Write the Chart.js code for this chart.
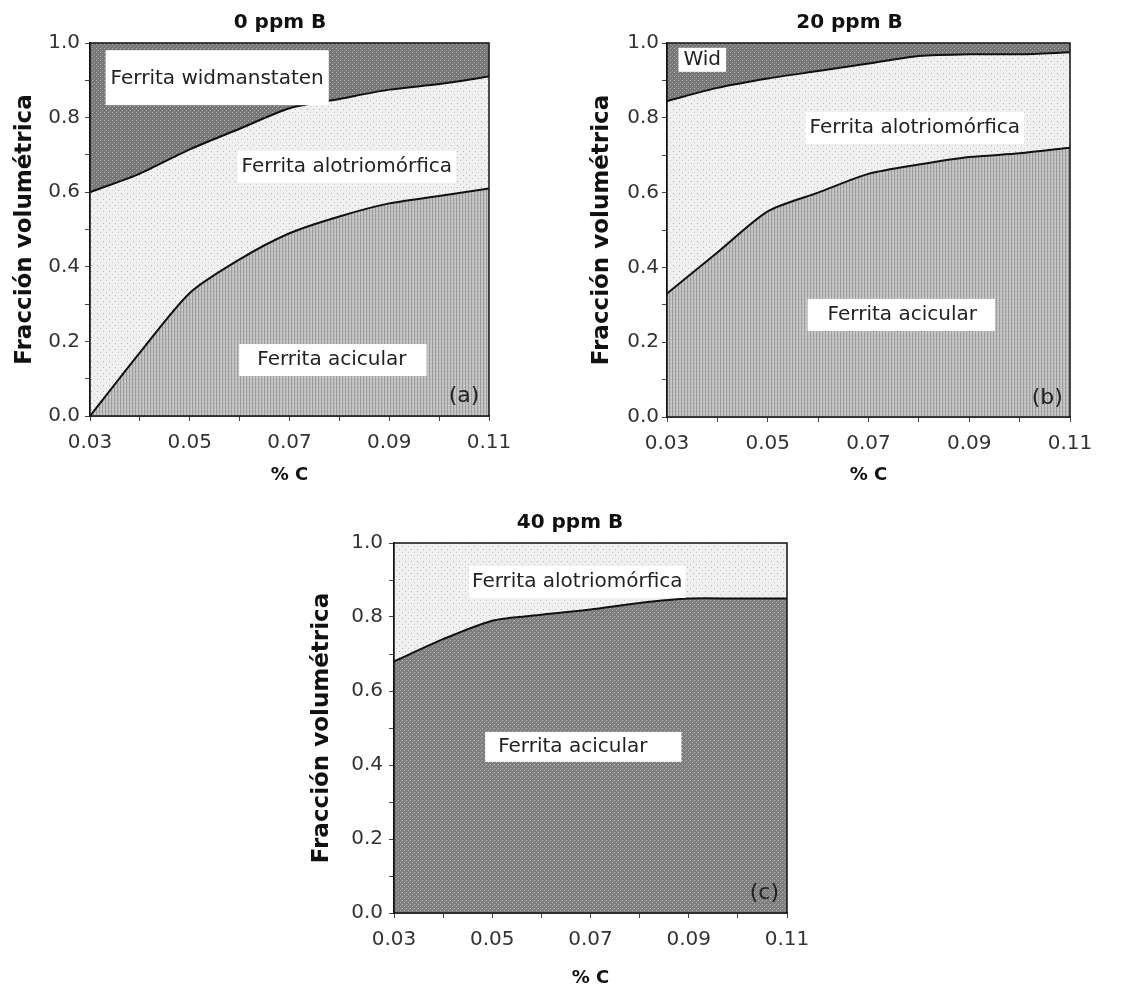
<!DOCTYPE html>
<html>
<head>
<meta charset="utf-8">
<script src="https://cdn.jsdelivr.net/npm/chart.js@4.4.1/dist/chart.umd.min.js"></script>
<style>
  body { margin: 0; background: #fff; }
  .box { position: absolute; }
</style>
</head>
<body>
<div class="box" style="left:0px;top:0px;width:560px;height:490px"><canvas id="chA"></canvas></div>
<div class="box" style="left:570px;top:0px;width:559px;height:490px"><canvas id="chB"></canvas></div>
<div class="box" style="left:290px;top:500px;width:560px;height:493px"><canvas id="chC"></canvas></div>
<script>
// % C
const carbon = [0.03, 0.04, 0.05, 0.06, 0.07, 0.08, 0.09, 0.10, 0.11];

// 0 ppm B : boundary curves (cumulative fraction)
const a_acicular  = [0.00, 0.17, 0.33, 0.42, 0.49, 0.535, 0.57, 0.59, 0.61];
const a_alotrio   = [0.60, 0.65, 0.715, 0.77, 0.825, 0.85, 0.875, 0.89, 0.91];

// 20 ppm B
const b_acicular  = [0.33, 0.44, 0.55, 0.60, 0.65, 0.675, 0.695, 0.705, 0.72];
const b_alotrio   = [0.845, 0.88, 0.905, 0.925, 0.945, 0.965, 0.97, 0.97, 0.975];

// 40 ppm B
const c_acicular  = [0.68, 0.74, 0.79, 0.806, 0.82, 0.838, 0.85, 0.85, 0.85];
const c_top       = [1, 1, 1, 1, 1, 1, 1, 1, 1];

function pts(arr){
    return carbon.map((c,i)=>({x:c, y:arr[i]}));
}

function makePattern(w, h, draw){
    let c=document.createElement('canvas');
    c.width=w; c.height=h;
    let g=c.getContext('2d');
    draw(g);
    return g.createPattern(c,'repeat');
}
function dot(g,x,y,col){ g.fillStyle=col; g.fillRect(x,y,1,1); }

const patWid = makePattern(4,4,g=>{
    g.fillStyle='#767676'; g.fillRect(0,0,4,4);
    dot(g,0,0,'#b2b2b2'); dot(g,2,2,'#a4a4a4'); dot(g,1,3,'#8a8a8a');
});
const patAlot = makePattern(6,6,g=>{
    g.fillStyle='#f0f0f0'; g.fillRect(0,0,6,6);
    dot(g,1,1,'#b0b0b0'); dot(g,4,4,'#c8c8c8');
});
const patAcic = makePattern(3,4,g=>{
    g.fillStyle='#c0c0c0'; g.fillRect(0,0,3,4);
    g.fillStyle='#9c9c9c'; g.fillRect(0,0,1,4);
    dot(g,2,1,'#d8d8d8');
});
const patAcicDark = makePattern(4,4,g=>{
    g.fillStyle='#7e7e7e'; g.fillRect(0,0,4,4);
    dot(g,0,0,'#b8b8b8'); dot(g,2,2,'#a8a8a8'); dot(g,3,1,'#959595');
});

const frameAndLabels = {
    id:'frameAndLabels',
    afterDatasetsDraw(chart, args, opts){
        let ctx=chart.ctx, a=chart.chartArea;
        let xs=chart.scales.x, ys=chart.scales.y;
        ctx.save();
        (opts.labels||[]).forEach(l=>{
            ctx.font=(l.size||20)+'px "DejaVu Sans"';
            let px=xs.getPixelForValue(l.x), py=ys.getPixelForValue(l.y);
            let w=ctx.measureText(l.text).width;
            if(l.box){
                let p=l.box;
                ctx.fillStyle='#ffffff';
                ctx.fillRect(px-w/2-p[3], py-12-p[0], w+p[1]+p[3], 24+p[0]+p[2]);
            }
            ctx.fillStyle='#222';
            ctx.textAlign='center';
            ctx.textBaseline='middle';
            ctx.fillText(l.text, px, py);
        });
        ctx.strokeStyle='#111';
        ctx.lineWidth=1.5;
        ctx.strokeRect(a.left, a.top, a.right-a.left, a.bottom-a.top);
        ctx.restore();
    }
};

function makeChart(id, title, datasets, lay, labels){
    let ctx=document.getElementById(id).getContext('2d');
    return new Chart(ctx,{
        type:'line',
        data:{ datasets:datasets },
        options:{
            responsive:true,
            maintainAspectRatio:false,
            animation:false,
            layout:{ padding:0 },
            elements:{ point:{ radius:0 }, line:{ tension:0.25 } },
            plugins:{
                legend:{ display:false },
                tooltip:{ enabled:false },
                title:{
                    display:true, text:title, color:'#111',
                    font:{ family:'DejaVu Sans', size:20, weight:'bold' },
                    padding:{ top:11, bottom:8 }
                },
                frameAndLabels:{ labels:labels }
            },
            scales:{
                x:{
                    type:'linear', min:0.03, max:0.11,
                    afterFit:(s)=>{ s.height=lay.xh; },
                    border:{ color:'#111', width:1.5 },
                    grid:{ drawOnChartArea:false, tickLength:5, color:'#444' },
                    ticks:{
                        stepSize:0.01, color:'#333', padding:10, maxRotation:0, autoSkip:false,
                        font:{ family:'DejaVu Sans', size:20 },
                        callback:v=>(Math.round(v*100)%2===1 ? v.toFixed(2) : '')
                    },
                    title:{
                        display:true, text:'% C', color:'#111',
                        font:{ family:'DejaVu Sans', size:18, weight:'bold' },
                        padding:{ top:0, bottom:4 }
                    }
                },
                y:{
                    min:0, max:1,
                    afterFit:(s)=>{ s.width=lay.yw; },
                    border:{ color:'#111', width:1.5 },
                    grid:{ drawOnChartArea:false, tickLength:5, color:'#444' },
                    ticks:{
                        stepSize:0.1, color:'#333', padding:lay.ypad, autoSkip:false,
                        font:{ family:'DejaVu Sans', size:20 },
                        callback:v=>(Math.round(v*10)%2===0 ? v.toFixed(1) : '')
                    },
                    title:{
                        display:true, text:'Fracción volumétrica', color:'#111',
                        font:{ family:'DejaVu Sans', size:23, weight:'bold' },
                        padding:{ top:lay.ytp, bottom:0 }
                    }
                },
                // empty right gutter so the title stays centred on the whole panel
                y2:{
                    type:'linear', position:'right', min:0, max:1,
                    afterFit:(s)=>{ s.width=lay.right; },
                    grid:{ display:false },
                    border:{ display:false },
                    ticks:{ display:false }
                }
            }
        },
        plugins:[frameAndLabels]
    });
}

// (a) 0 ppm B
makeChart('chA','0 ppm B',[
    { data:pts(a_acicular), borderColor:'#111', borderWidth:2, backgroundColor:patAcic, fill:'origin' },
    { data:pts(a_alotrio), borderColor:'#111', borderWidth:2, backgroundColor:patAlot, fill:'-1' },
    { data:pts(a_alotrio), borderWidth:0, borderColor:'rgba(0,0,0,0)', backgroundColor:patWid, fill:'end' }
],{ right:71, xh:74, yw:90, ypad:5, ytp:11 },[
    { text:'Ferrita widmanstaten', x:0.0555, y:0.903, box:[17,5,14,5] },
    { text:'Ferrita alotriomórfica', x:0.0815, y:0.668, box:[4,4,4,4] },
    { text:'Ferrita acicular', x:0.0785, y:0.15, box:[4,20,4,18] },
    { text:'(a)', x:0.105, y:0.052, size:22 }
]);

// (b) 20 ppm B
makeChart('chB','20 ppm B',[
    { data:pts(b_acicular), borderColor:'#111', borderWidth:2, backgroundColor:patAcic, fill:'origin' },
    { data:pts(b_alotrio), borderColor:'#111', borderWidth:2, backgroundColor:patAlot, fill:'-1' },
    { data:pts(b_alotrio), borderWidth:0, borderColor:'rgba(0,0,0,0)', backgroundColor:patWid, fill:'end' }
],{ right:59, xh:73, yw:97, ypad:3, ytp:18 },[
    { text:'Wid', x:0.037, y:0.955, box:[0,5,0,5] },
    { text:'Ferrita alotriomórfica', x:0.0792, y:0.773, box:[4,4,4,4] },
    { text:'Ferrita acicular', x:0.0767, y:0.273, box:[4,18,4,20] },
    { text:'(b)', x:0.1055, y:0.05, size:22 }
]);

// (c) 40 ppm B
makeChart('chC','40 ppm B',[
    { data:pts(c_acicular), borderColor:'#111', borderWidth:2, backgroundColor:patAcicDark, fill:'origin' },
    { data:pts(c_top), borderColor:'#111', borderWidth:0, backgroundColor:patAlot, fill:'-1' }
],{ right:63, xh:80, yw:104, ypad:6, ytp:18 },[
    { text:'Ferrita alotriomórfica', x:0.0673, y:0.895, box:[4,3,4,3] },
    { text:'Ferrita acicular', x:0.0664, y:0.449, box:[3,34,3,13] },
    { text:'(c)', x:0.1054, y:0.054, size:22 }
]);
</script>
</body>
</html>
